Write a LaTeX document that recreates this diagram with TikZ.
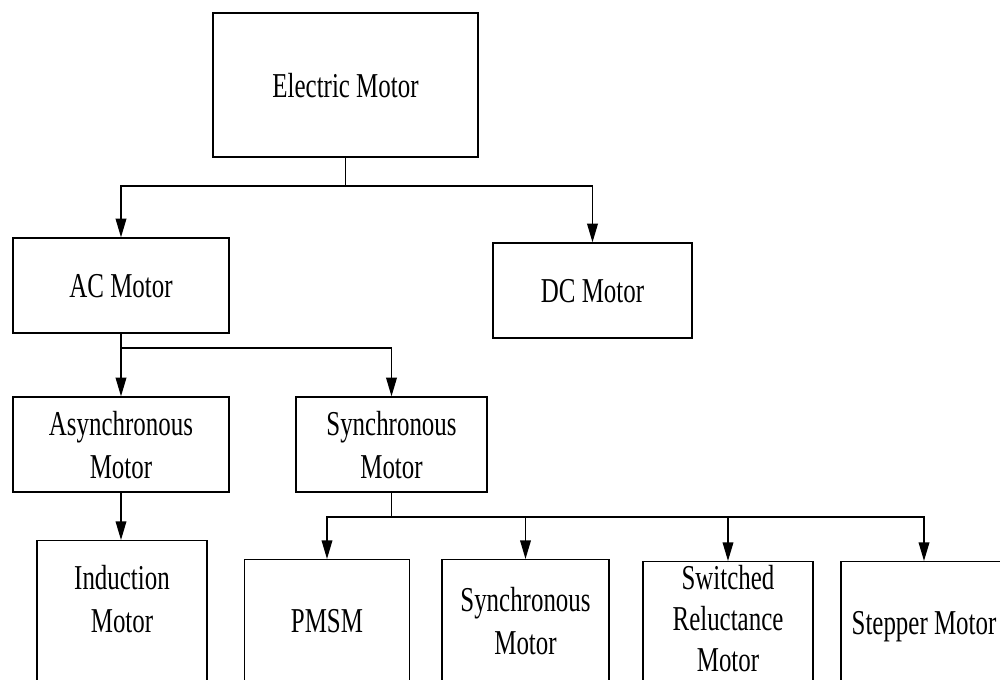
\documentclass[tikz,border=0pt]{standalone}
\usepackage{fontspec}
\setmainfont{Liberation Serif}
\usetikzlibrary{arrows.meta}
\newcommand{\mtext}[1]{\raisebox{-2.6pt}[\height][\depth]{\scalebox{1}[1.4]{\begin{tabular}{@{}c@{}}#1\end{tabular}}}}
\begin{document}
\begin{tikzpicture}[x=0.75pt,y=-0.75pt,
  box/.style={draw=black,line width=1pt,rectangle,inner sep=0pt,font=\fontsize{18.7}{23}\selectfont},
  txt/.style={inner sep=0pt,font=\fontsize{18.7}{23}\selectfont},
  arr/.style={-{Triangle[length=14pt,width=8pt]},line width=1.1pt},
  ln/.style={line width=1.1pt}]
\useasboundingbox (0,0) rectangle (1000,680);
\clip (0,0) rectangle (1000,680);
\fill[white] (0,0) rectangle (1000,680);

% top levels
\node[box,minimum width=198.75pt,minimum height=108pt] (em) at (345.5,85) {\mtext{Electric Motor}};
\node[box,minimum width=162pt,minimum height=71.25pt] (ac) at (121,285.5) {\mtext{AC Motor}};
\node[box,minimum width=149.25pt,minimum height=71.25pt] (dc) at (592.5,290.5) {\mtext{DC Motor}};
\node[box,minimum width=162pt,minimum height=71.25pt] (async) at (121,444.5) {\mtext{Asynchronous\\Motor}};
\node[box,minimum width=143.25pt,minimum height=71.25pt] (sync) at (391.5,444.5) {\mtext{Synchronous\\Motor}};

% bottom row (boxes run past the lower edge)
\node[box,anchor=north,minimum width=127.5pt,minimum height=127.5pt] (ind) at (122,540) {};
\node[box,anchor=north,minimum width=123.75pt,minimum height=127.5pt] (pmsm) at (327,559) {};
\node[box,anchor=north,minimum width=125.25pt,minimum height=127.5pt] (syn2) at (525.5,559) {};
\node[box,anchor=north,minimum width=127.5pt,minimum height=127.5pt] (sr) at (728,561) {};
\node[box,anchor=north,minimum width=124.5pt,minimum height=127.5pt] (step) at (924,561) {};

\node[txt] (indt) at (122,598.5) {\mtext{Induction\\Motor}};
\node[txt] (pmsmt) at (327,620) {\mtext{PMSM}};
\node[txt] (syn2t) at (525.5,620.5) {\mtext{Synchronous\\Motor}};
\node[txt,font=\fontsize{18.7}{22}\selectfont] (srt) at (728,619) {\mtext{Switched\\Reluctance\\Motor}};
\node[txt] (stept) at (924,622) {\mtext{Stepper Motor}};

% connectors
\coordinate (j1) at (345.5,186);
\draw[ln] (em.south) -- (j1);
\draw[arr] (j1) -| (ac.north);
\draw[arr] (j1) -| (dc.north);

\coordinate (j2) at (121,348);
\draw[arr] (ac.south) -- (async.north);
\draw[arr] (j2) -| (sync.north);

\draw[arr] (async.south) -- (async.south |- ind.north);

\coordinate (j3) at (391.5,517);
\draw[ln] (sync.south) -- (j3);
\draw[arr] (j3) -| (pmsm.north);
\draw[arr] (j3) -| (syn2.north);
\draw[arr] (j3) -| (sr.north);
\draw[arr] (j3) -| (step.north);
\end{tikzpicture}
\end{document}
